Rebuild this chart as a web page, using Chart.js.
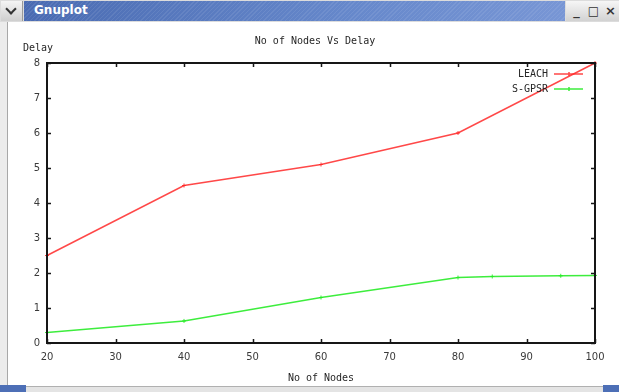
<!DOCTYPE html>
<html>
<head>
<meta charset="utf-8">
<script src="https://cdn.jsdelivr.net/npm/chart.js@4.4.1/dist/chart.umd.min.js"></script>
<style>
  html, body { margin:0; padding:0; background:#fff; }
  body { width:619px; height:392px; position:relative; overflow:hidden; }
  #c { position:absolute; left:0; top:0; }
  .abs { position:absolute; }
  #frameTop { left:0; top:0; width:619px; height:22px; background:#dcdcdc; }
  #chev { left:1px; top:1px; width:21px; height:20px; background:linear-gradient(#f4f4f4,#cfcfcf); border-right:1px solid #9a9a9a; }
  #chev:after { content:""; position:absolute; left:6px; top:4px; width:6px; height:6px; border-right:2px solid #333; border-bottom:2px solid #333; transform:rotate(45deg); }
  #blue { left:24px; top:1px; width:541px; height:20px;
    background: repeating-linear-gradient(135deg, rgba(255,255,255,0.08) 0 1px, rgba(255,255,255,0) 1px 3px), linear-gradient(90deg,#4a6bb2,#6688cb 60%,#7896d5); }
  #ttl { left:34px; top:3px; color:#fff; font:bold 12px "DejaVu Sans", sans-serif; }
  #btns { left:566px; top:1px; width:53px; height:20px; background:linear-gradient(#f6f6f6,#d2d2d2); }
  .btn { top:0; width:17px; height:20px; color:#333; font:bold 13px "DejaVu Sans", sans-serif; text-align:center; line-height:20px; }
  #leftB { left:0; top:22px; width:8px; height:366px; background:#ececec; border-right:1px solid #a8a8a8; box-sizing:border-box; }
  #botB { left:0; top:386px; width:619px; height:6px; background:#e4e4e4; border-top:1px solid #b0b0b0; box-sizing:border-box; }
  #blc { left:0; top:385px; width:26px; height:7px; background:#4d6fb6; }
  #brc { left:603px; top:385px; width:16px; height:7px; background:#4d6fb6; }
</style>
</head>
<body>
<canvas id="c" width="619" height="392"></canvas>
<div class="abs" id="frameTop"></div>
<div class="abs" id="chev"></div>
<div class="abs" id="blue"></div>
<div class="abs" id="ttl">Gnuplot</div>
<div class="abs" id="btns">
  <div class="abs btn" style="left:2px">_</div>
  <div class="abs btn" style="left:19px;font-size:12px">□</div>
  <div class="abs btn" style="left:36px">×</div>
</div>
<div class="abs" id="leftB"></div>
<div class="abs" id="botB"></div>
<div class="abs" id="blc"></div>
<div class="abs" id="brc"></div>
<script>
// ---- data ----
const chartTitle = "No of Nodes Vs Delay";
const xAxisTitle = "No of Nodes";
const yAxisTitle = "Delay";
const seriesNames = ["LEACH", "S-GPSR"];
const leachNodes = [20, 40, 60, 80, 100];
const leachDelay = [2.5, 4.5, 5.1, 6.0, 8.0];
const sgpsrNodes = [20, 40, 60, 80, 85, 95, 100];
const sgpsrDelay = [0.3, 0.63, 1.3, 1.87, 1.9, 1.92, 1.93];
const xTicks = [20, 30, 40, 50, 60, 70, 80, 90, 100];
const yTicks = [0, 1, 2, 3, 4, 5, 6, 7, 8];

const RED = "rgba(255,40,40,0.85)";
const GREEN = "rgba(40,235,40,0.9)";
const MONO = '"DejaVu Sans Mono", monospace';

const toXY = (xs, ys) => xs.map((x, i) => ({ x: x, y: ys[i] }));

const decor = {
  id: "decor",
  afterDatasetsDraw(chart) {
    const { ctx, chartArea: a, scales } = chart;
    ctx.save();
    // frame
    ctx.strokeStyle = "#161616";
    ctx.lineWidth = 2;
    ctx.strokeRect(a.left, a.top, a.right - a.left, a.bottom - a.top);
    // inward ticks (mirrored)
    ctx.lineWidth = 1.5;
    ctx.beginPath();
    scales.x.ticks.forEach(t => {
      const px = Math.round(scales.x.getPixelForValue(t.value)) + 0.5;
      ctx.moveTo(px, a.bottom); ctx.lineTo(px, a.bottom - 4);
      ctx.moveTo(px, a.top); ctx.lineTo(px, a.top + 4);
    });
    scales.y.ticks.forEach(t => {
      const py = Math.round(scales.y.getPixelForValue(t.value)) + 0.5;
      ctx.moveTo(a.left, py); ctx.lineTo(a.left + 4, py);
      ctx.moveTo(a.right, py); ctx.lineTo(a.right - 4, py);
    });
    ctx.stroke();
    // texts
    ctx.fillStyle = "#262626";
    ctx.font = "10px " + MONO;
    ctx.textBaseline = "middle";
    ctx.textAlign = "center";
    ctx.fillText(chartTitle, 315, 41);
    ctx.fillText(xAxisTitle, (a.left + a.right) / 2, 378);
    ctx.textAlign = "left";
    ctx.fillText(yAxisTitle, 23, 48);
    // legend
    const colors = [RED, GREEN];
    seriesNames.forEach((n, i) => {
      const y = 74 + i * 15;
      ctx.fillStyle = "#262626";
      ctx.textAlign = "right";
      ctx.fillText(n, 548, y);
      ctx.strokeStyle = colors[i];
      ctx.lineWidth = 1.5;
      ctx.beginPath();
      ctx.moveTo(554, y); ctx.lineTo(583, y);
      ctx.moveTo(569, y - 2); ctx.lineTo(569, y + 2);
      ctx.stroke();
    });
    ctx.restore();
  }
};

new Chart(document.getElementById("c"), {
  type: "line",
  data: {
    datasets: [
      { label: seriesNames[0], data: toXY(leachNodes, leachDelay), borderColor: RED, backgroundColor: RED,
        borderWidth: 1.5, pointStyle: "cross", pointRadius: 2, pointBorderWidth: 1, tension: 0, clip: false },
      { label: seriesNames[1], data: toXY(sgpsrNodes, sgpsrDelay), borderColor: GREEN, backgroundColor: GREEN,
        borderWidth: 1.5, pointStyle: "cross", pointRadius: 2, pointBorderWidth: 1, tension: 0, clip: false }
    ]
  },
  options: {
    responsive: false,
    animation: false,
    devicePixelRatio: 1,
    layout: { padding: { left: 0, right: 24, top: 63, bottom: 0 } },
    plugins: { legend: { display: false }, title: { display: false }, tooltip: { enabled: false } },
    scales: {
      x: {
        type: "linear", min: xTicks[0], max: xTicks[xTicks.length - 1],
        afterBuildTicks: s => { s.ticks = xTicks.map(v => ({ value: v })); },
        afterFit: s => { s.height = 49; },
        grid: { display: false, drawTicks: false },
        border: { display: false },
        ticks: { padding: 8, color: "#3a3a3a", font: { family: "DejaVu Sans", size: 10 }, maxRotation: 0 }
      },
      y: {
        min: yTicks[0], max: yTicks[yTicks.length - 1],
        afterBuildTicks: s => { s.ticks = yTicks.map(v => ({ value: v })); },
        afterFit: s => { s.width = 47; },
        grid: { display: false, drawTicks: false },
        border: { display: false },
        ticks: { padding: 7, color: "#3a3a3a", font: { family: "DejaVu Sans", size: 10 } }
      }
    }
  },
  plugins: [decor]
});
</script>
</body>
</html>
